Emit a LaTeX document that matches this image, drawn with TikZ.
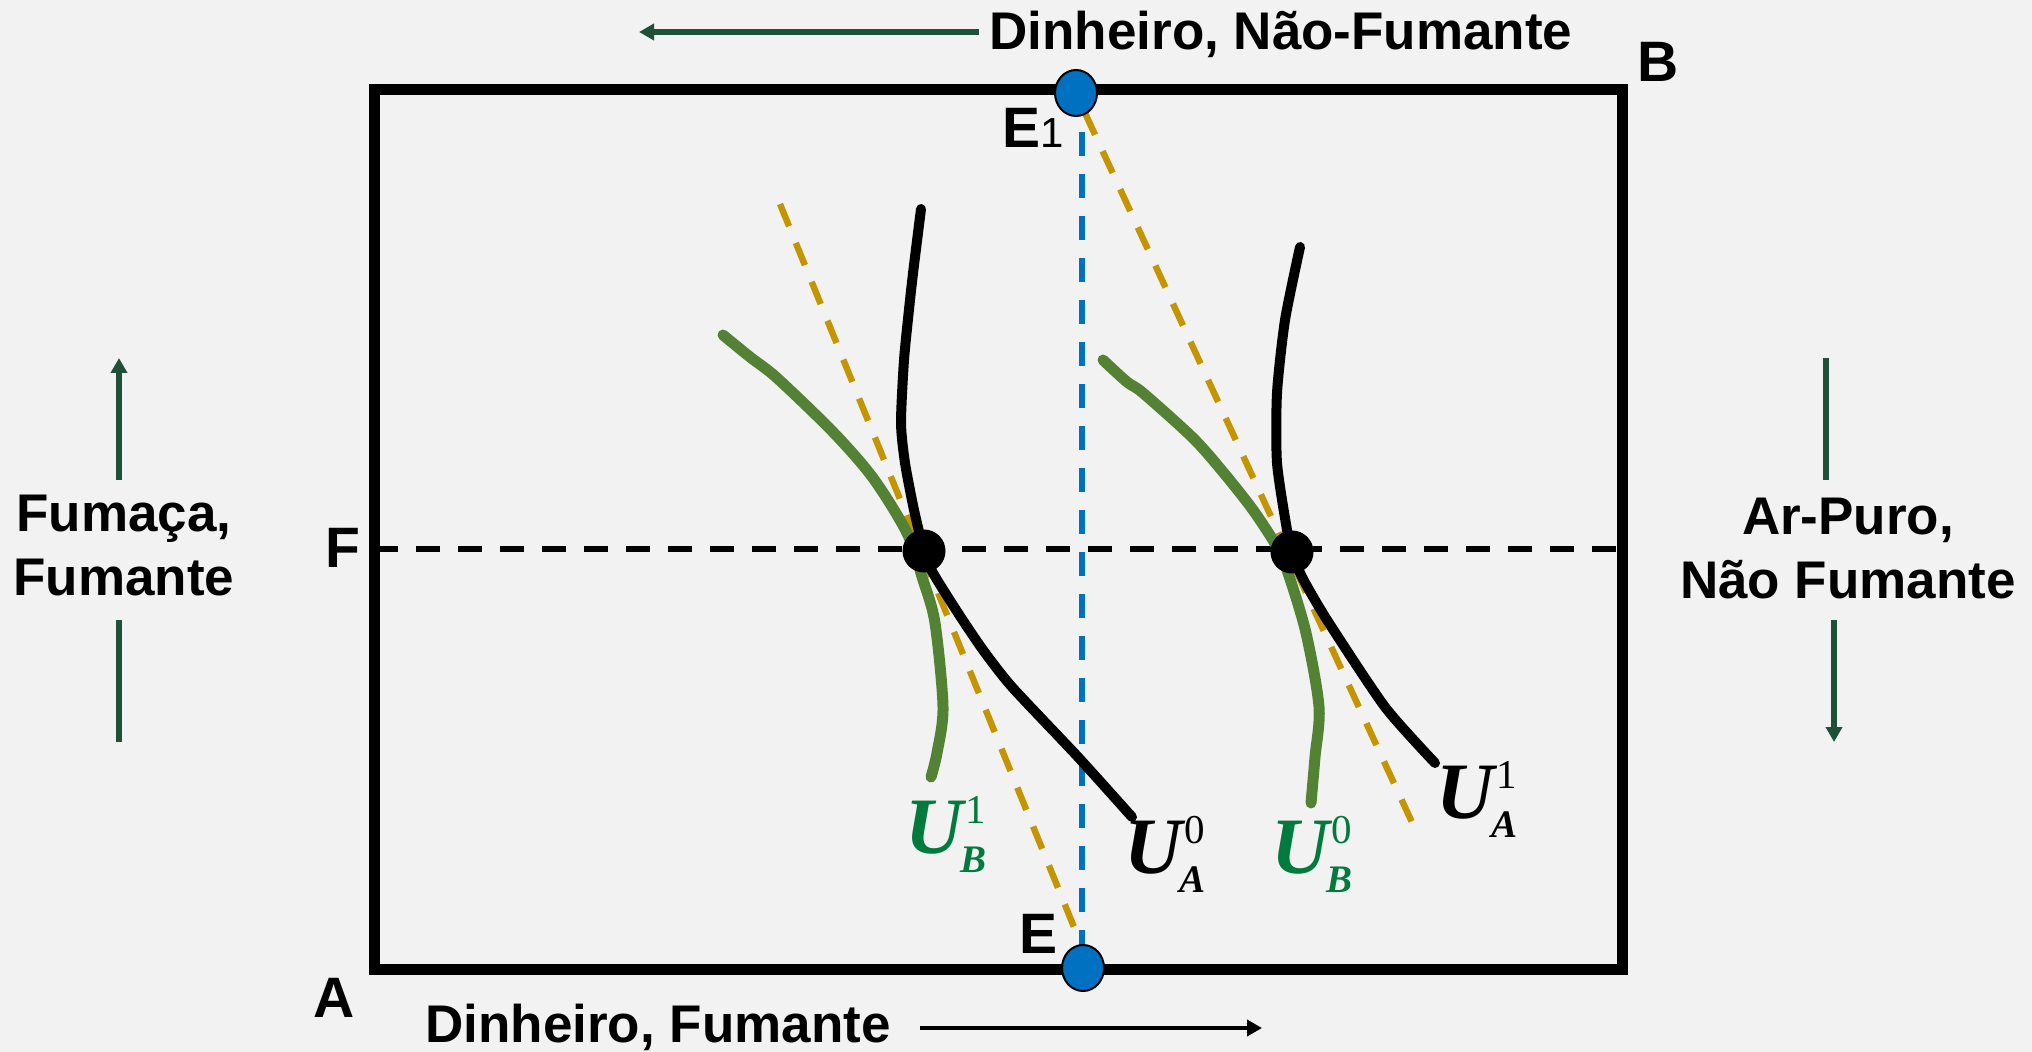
\documentclass[tikz,border=0pt]{standalone}
\usepackage{fontspec}
\setmainfont{Liberation Sans}
\newfontfamily\tnr{Liberation Serif}
\usetikzlibrary{arrows.meta,shapes.geometric}
\definecolor{bg}{HTML}{F2F2F2}
\definecolor{arrgreen}{HTML}{1F5038}
\definecolor{curvegreen}{HTML}{548235}
\definecolor{labgreen}{HTML}{007A3D}
\definecolor{gold}{HTML}{C49500}
\definecolor{eblue}{HTML}{0070C0}
\newcommand\Ulabel[2]{{\tnr\bfseries\itshape\fontsize{40}{44}\selectfont U}\kern-1.2pt\rlap{\kern2.5pt\raisebox{15pt}{\tnr\mdseries\upshape\fontsize{20.5}{22}\selectfont #1}}\raisebox{-9.5pt}{\tnr\bfseries\itshape\fontsize{19.5}{22}\selectfont #2}}
\begin{document}
\begin{tikzpicture}[x=0.5pt,y=-0.5pt,
  lab/.style={inner sep=0pt, font=\bfseries\fontsize{26.5}{32}\selectfont},
  corner/.style={inner sep=0pt, font=\bfseries\fontsize{28.5}{34}\selectfont},
  ulab/.style={inner sep=0pt, anchor=base west},
  frame/.style={line width=5.5pt, line join=miter},
  fline/.style={line width=3.3pt, dash pattern=on 12pt off 9pt},
  bline/.style={line width=3.3pt, eblue, dash pattern=on 12pt off 9pt},
  gline/.style={line width=3.2pt, gold, dash pattern=on 12pt off 9pt},
  gcurve/.style={line width=5.5pt, curvegreen, line cap=round, line join=round},
  kcurve/.style={line width=5pt, black, line cap=round, line join=round},
  dot/.style={circle, fill=black, inner sep=0pt, minimum size=21.5pt},
  edot/.style={ellipse, fill=eblue, draw=black, line width=1pt, inner sep=0pt, minimum width=21pt, minimum height=23pt},
  garrow/.style={line width=3pt, arrgreen},
  tip/.style={-{Triangle[length=7.5pt,width=8pt]}}
]
\fill[bg] (0,0) rectangle (2032,1052);
\useasboundingbox (0,0) rectangle (2032,1052);

% frame
\draw[frame] (374,90) rectangle (1622,969);

% coordinates
\coordinate (Fl) at (374,549);
\coordinate (Fr) at (1622,549);
\coordinate (bt) at (1082,132);
\coordinate (bb) at (1082,945);
\coordinate (g1a) at (780,204);
\coordinate (g1b) at (1078,937);
\coordinate (g2a) at (1085,113);
\coordinate (g2b) at (1416,831);

% dashed lines
\draw[fline] (Fl) -- (Fr);
\draw[bline] (bt) -- (bb);
\draw[gline] (g1a) -- (g1b);
\draw[gline] (g2a) -- (g2b);

% green curves
\draw[gcurve] plot[smooth, tension=0.5] coordinates {(723,335) (750,357) (777,378) (833,432) (873,478) (907,533) (923,580) (935,623) (943,707) (937,753) (931,777)};
\draw[gcurve] plot[smooth, tension=0.5] coordinates {(1103,360) (1127,382) (1143,393) (1193,438) (1223,472) (1253,510) (1277,547) (1288,573) (1306,633) (1319,707) (1315,757) (1311,803)};

% black curves
\draw[kcurve] plot[smooth, tension=0.4] coordinates {(921,209) (914,265) (910,300) (904,360) (901,423) (905,463) (914,510) (924,551) (933,573) (958,613) (983,650) (1012,687) (1078,757) (1132,817)};
\draw[kcurve] plot[smooth, tension=0.4] coordinates {(1300,247) (1285,320) (1277,393) (1277,463) (1287,530) (1292,552) (1302,577) (1327,620) (1385,707) (1435,763)};

% dots
\node[dot] (P0) at (924,551) {};
\node[dot] (P1) at (1292,552) {};
\node[edot] (E1dot) at (1076,93) {};
\node[edot] (Edot) at (1083,968) {};

% top/bottom labels and arrows
\node[lab, anchor=base west] (topl) at (989,50) {Dinheiro, Não-Fumante};
\coordinate (ta1) at (979,32);
\coordinate (ta2) at (639,32);
\draw[line width=2.8pt, arrgreen, tip] (ta1) -- (ta2);
\node[lab, anchor=base west] (botl) at (425,1042) {Dinheiro, Fumante};
\coordinate (ba1) at (920,1028);
\coordinate (ba2) at (1262,1028);
\draw[line width=2.4pt, black, tip] (ba1) -- (ba2);

% side labels and arrows
\node[lab, align=center, anchor=north] (leftl) at (124,495) {Fumaça,\\Fumante};
\coordinate (la1) at (119,480);
\coordinate (la2) at (119,358);
\coordinate (la3) at (119,620);
\coordinate (la4) at (119,742);
\draw[garrow, tip] (la1) -- (la2);
\draw[garrow] (la3) -- (la4);
\node[lab, align=center, anchor=north] (rightl) at (1848,498) {Ar-Puro,\\Não Fumante};
\coordinate (ra1) at (1826,358);
\coordinate (ra2) at (1826,480);
\coordinate (ra3) at (1834,620);
\coordinate (ra4) at (1834,742);
\draw[garrow] (ra1) -- (ra2);
\draw[garrow, tip] (ra3) -- (ra4);

% corner labels
\node[corner] (Flab) at (343,548) {F};
\node[corner] (Al) at (334,998) {A};
\node[corner] (Bl) at (1658,62) {B};
\node[corner] (El) at (1038,934) {E};
\node[corner, anchor=base west] (E1l) at (1002,148) {E{\mdseries\fontsize{21}{24}\selectfont 1}};

% utility labels
\node[ulab, text=labgreen] (UB1) at (905,853) {\Ulabel{1}{B}};
\node[ulab, text=black] (UA0) at (1124,873) {\Ulabel{0}{A}};
\node[ulab, text=labgreen] (UB0) at (1271,873) {\Ulabel{0}{B}};
\node[ulab, text=black] (UA1) at (1436,818) {\Ulabel{1}{A}};
\end{tikzpicture}
\end{document}
